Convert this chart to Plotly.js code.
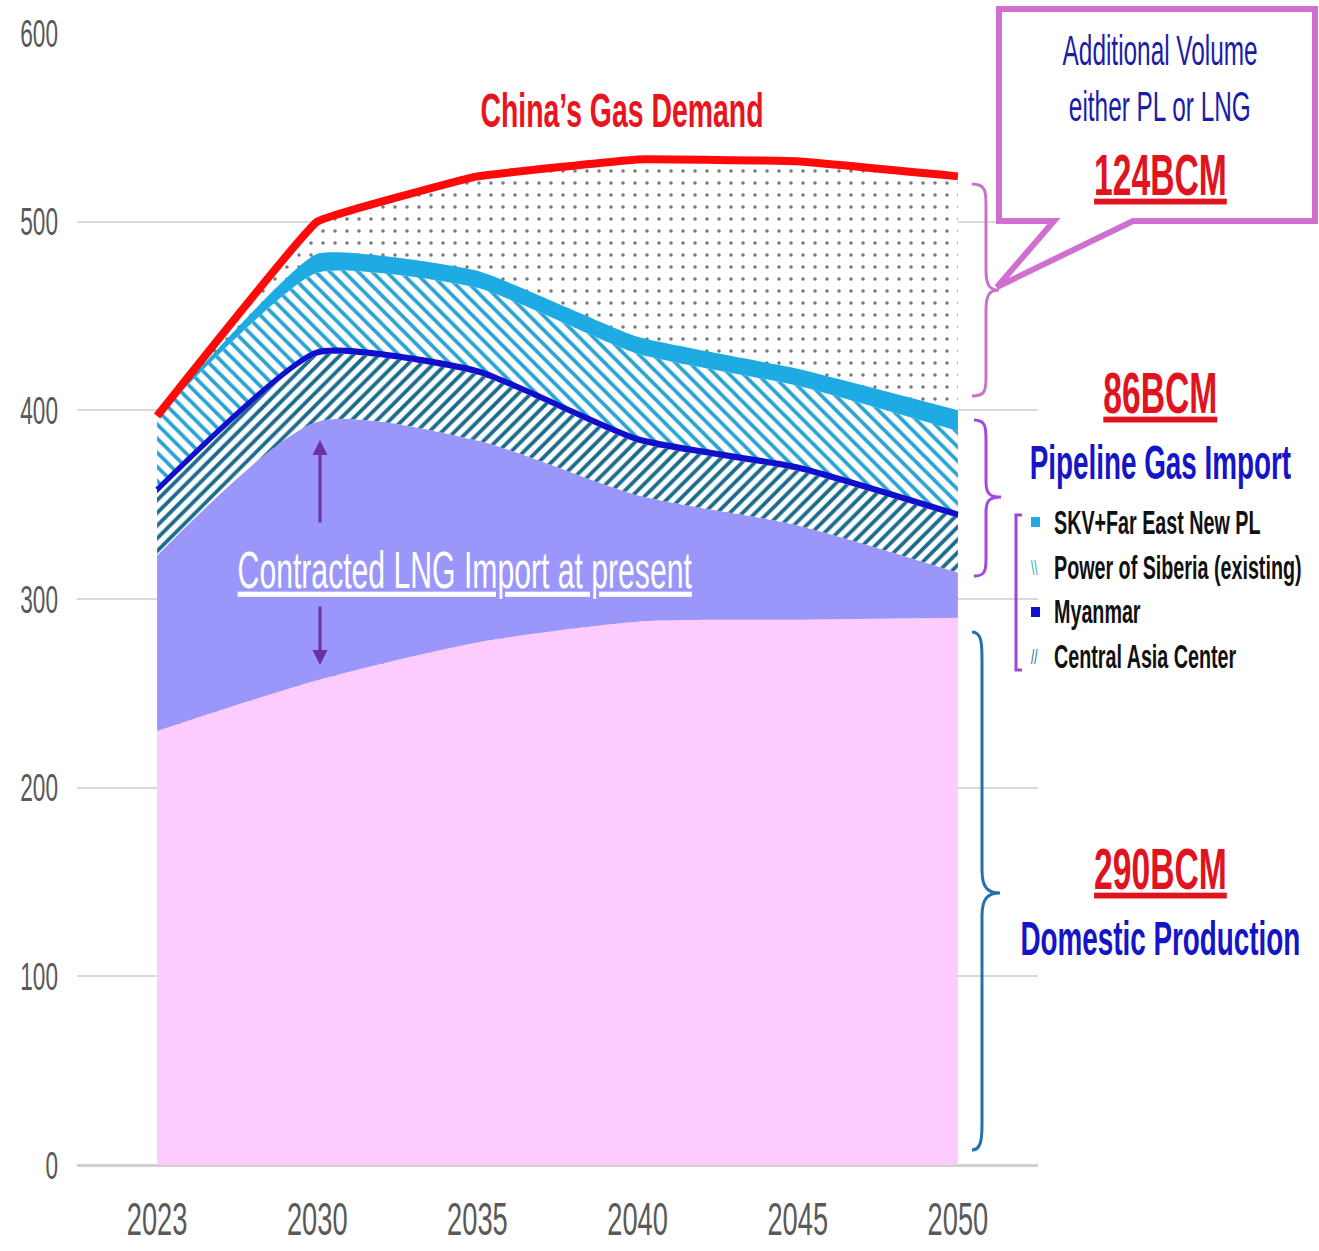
<!DOCTYPE html>
<html>
<head>
<meta charset="utf-8">
<script src="https://cdn.plot.ly/plotly-3.0.1.min.js"></script>
<style>html,body{margin:0;padding:0;background:#fff;}#chart{width:1319px;height:1251px;}</style>
</head>
<body>
<div id="chart"></div>
<script>
// ---- data (BCM) ----
const years = ['2023', '2030', '2035', '2040', '2045', '2050'];
const domesticProduction = [230, 257, 277, 288, 289, 290];
const contractedLNG = [93, 137, 107, 67, 50, 24];
const centralAsiaCenter = [33, 35, 35, 28, 29, 29];
const myanmar = [2, 2, 2, 2, 2, 2];
const powerOfSiberia = [39, 42, 44, 45, 43, 44];
const skvFarEastNewPL = [0, 10, 9, 9, 9, 11];
const chinaGasDemand = [397, 500, 524, 533, 532, 524];
const yTicks = [0, 100, 200, 300, 400, 500, 600];

const FONT = "'Liberation Sans', Arial, sans-serif";
const SQUEEZE = 0.58; // horizontal condensing of all texts

// pixel -> paper helpers (for decorations only)
const L = 77, R = 1038, T = 33, B = 1165;
const X = p => (p - L) / (R - L);
const Y = p => (B - p) / (B - T);
function pth(s) {
  let i = 0;
  return s.replace(/-?\d+(\.\d+)?/g, m => { const v = +m; const o = (i % 2 === 0) ? X(v) : Y(v); i++; return o.toFixed(5); });
}

const traces = [
  // additional volume (dotted) = area under demand, covered by the supply stack
  { x: years, y: chinaGasDemand, name: 'Additional Volume', type: 'scatter', mode: 'lines', fill: 'tozeroy',
    line: { width: 0, shape: 'spline', smoothing: 0.2 }, fillcolor: 'rgba(0,0,0,0)',
    fillpattern: { shape: '.', fgcolor: '#7A7A7A', bgcolor: '#FFFFFF', size: 12, solidity: 0.07 } },
  { x: years, y: domesticProduction, name: 'Domestic Production', type: 'scatter', mode: 'lines', stackgroup: 'supply',
    line: { width: 0, shape: 'spline', smoothing: 0.7 }, fillcolor: '#FDCBFD' },
  { x: years, y: contractedLNG, name: 'Contracted LNG', type: 'scatter', mode: 'lines', stackgroup: 'supply',
    line: { width: 0, shape: 'spline', smoothing: 0.7 }, fillcolor: '#9B97FA' },
  { x: years, y: centralAsiaCenter, name: 'Central Asia Center', type: 'scatter', mode: 'lines', stackgroup: 'supply',
    line: { width: 0, shape: 'spline', smoothing: 0.5 }, fillcolor: 'rgba(0,0,0,0)',
    fillpattern: { shape: '/', fgcolor: '#1D6B8E', bgcolor: '#FFFFFF', size: 9, solidity: 0.42 } },
  { x: years, y: myanmar, name: 'Myanmar', type: 'scatter', mode: 'lines', stackgroup: 'supply',
    line: { width: 5, color: '#1010CC', shape: 'spline', smoothing: 0.5 }, fillcolor: '#1010CC' },
  { x: years, y: powerOfSiberia, name: 'Power of Siberia (existing)', type: 'scatter', mode: 'lines', stackgroup: 'supply',
    line: { width: 0, shape: 'spline', smoothing: 0.5 }, fillcolor: 'rgba(0,0,0,0)',
    fillpattern: { shape: '\\', fgcolor: '#2BA3D3', bgcolor: '#FFFFFF', size: 10, solidity: 0.38 } },
  { x: years, y: skvFarEastNewPL, name: 'SKV+Far East New PL', type: 'scatter', mode: 'lines', stackgroup: 'supply',
    line: { width: 0, shape: 'spline', smoothing: 0.4 }, fillcolor: '#1EAAE2' },
  { x: years, y: chinaGasDemand, name: "China's Gas Demand", type: 'scatter', mode: 'lines',
    line: { width: 8, color: '#FF0A0A', shape: 'spline', smoothing: 0.2 } }
];

const shapes = [
  // callout box
  { type: 'path', xref: 'paper', yref: 'paper', layer: 'above',
    path: pth('M 999 9 L 1315 9 L 1315 221 L 1133 221 L 997 287 L 1054 221 L 999 221 Z'),
    line: { color: '#CF6FCF', width: 6 }, fillcolor: '#FFFFFF' },
  // brace additional volume
  { type: 'path', xref: 'paper', yref: 'paper', layer: 'above',
    path: pth('M 972 184 C 986 184 986 192 986 205 L 986 270 C 986 286 990 290 999 290 C 990 290 986 294 986 310 L 986 378 C 986 392 984 396 972 396'),
    line: { color: '#C774C7', width: 3 } },
  // brace pipeline
  { type: 'path', xref: 'paper', yref: 'paper', layer: 'above',
    path: pth('M 974 420 C 986 420 986 428 986 440 L 986 482 C 986 494 990 497 1001 497 C 990 497 986 500 986 512 L 986 560 C 986 572 984 576 974 576'),
    line: { color: '#A347E0', width: 3 } },
  // brace domestic
  { type: 'path', xref: 'paper', yref: 'paper', layer: 'above',
    path: pth('M 972 632 C 982 632 982 645 982 660 L 982 870 C 982 888 988 893 1000 893 C 988 893 982 898 982 916 L 982 1125 C 982 1142 980 1150 972 1150'),
    line: { color: '#2470AE', width: 3 } },
  // legend bracket
  { type: 'path', xref: 'paper', yref: 'paper', layer: 'above',
    path: pth('M 1022 515 L 1016 515 L 1016 670 L 1022 670'),
    line: { color: '#9B47D8', width: 3 } },
  // legend squares
  { type: 'rect', xref: 'paper', yref: 'paper', layer: 'above', x0: X(1031), x1: X(1040), y0: Y(527), y1: Y(517),
    line: { width: 0 }, fillcolor: '#1EAAE2' },
  { type: 'rect', xref: 'paper', yref: 'paper', layer: 'above', x0: X(1031), x1: X(1040), y0: Y(617), y1: Y(607),
    line: { width: 0 }, fillcolor: '#1010CC' }
];

function ann(text, px, py, size, color, opts) {
  return Object.assign({ text: text, xref: 'paper', yref: 'paper', x: X(px), y: Y(py), showarrow: false,
    xanchor: 'center', yanchor: 'middle', font: { family: FONT, size: size, color: color } }, opts || {});
}
const LEFT = { xanchor: 'left', align: 'left' };

const annotations = [
  ann('<u>Contracted LNG Import at present</u>', 465, 570, 52, '#FFFFFF'),
  ann('Additional Volume', 1160, 50, 42, '#1C1CA8'),
  ann('either PL or LNG', 1160, 106, 42, '#1C1CA8'),
  ann('<u><b>124BCM</b></u>', 1160, 174, 58, '#E0141E'),
  ann('<u><b>86BCM</b></u>', 1160, 392, 58, '#E0141E'),
  ann('<b>Pipeline Gas Import</b>', 1160, 462, 48, '#1414C8'),
  ann('<u><b>290BCM</b></u>', 1160, 868, 58, '#E0141E'),
  ann('<b>Domestic Production</b>', 1160, 938, 48, '#1414C8'),
  // legend entries
  ann('<b>SKV+Far East New PL</b>', 1052, 522, 34, '#111111', LEFT),
  ann('\\\\', 1029, 568, 20, '#2BA3D3', LEFT),
  ann('<b>Power of Siberia (existing)</b>', 1052, 567, 34, '#111111', LEFT),
  ann('<b>Myanmar</b>', 1052, 611, 34, '#111111', LEFT),
  ann('//', 1029, 657, 20, '#1D6B8E', LEFT),
  ann('<b>Central Asia Center</b>', 1052, 656, 34, '#111111', LEFT),
  // arrows
  { xref: 'paper', yref: 'paper', x: X(320), y: Y(440), ax: 0, ay: 84, text: '', showarrow: true,
    arrowhead: 2, arrowsize: 1, arrowwidth: 3, arrowcolor: '#7030A0' },
  { xref: 'paper', yref: 'paper', x: X(320), y: Y(665), ax: 0, ay: -60, text: '', showarrow: true,
    arrowhead: 2, arrowsize: 1, arrowwidth: 3, arrowcolor: '#7030A0' }
];

const layout = {
  width: 1319, height: 1251,
  margin: { l: L, r: 1319 - R, t: T, b: 1251 - B },
  paper_bgcolor: '#FFFFFF', plot_bgcolor: '#FFFFFF',
  showlegend: false,
  title: { text: '<b>China’s Gas Demand</b>', xref: 'paper', x: X(622), xanchor: 'center',
    yref: 'container', y: 1 - 110 / 1251, yanchor: 'middle', font: { family: FONT, size: 49, color: '#E8141E' } },
  xaxis: { type: 'category', categoryorder: 'array', categoryarray: years, range: [-0.5, 5.5],
    showgrid: false, zeroline: false, showline: false, ticks: '',
    tickfont: { family: FONT, size: 47, color: '#595959' }, ticklabelstandoff: 22 },
  yaxis: { range: [0, 600], tickvals: yTicks, ticktext: yTicks.map(String), showgrid: true,
    gridcolor: '#D9D9D9', gridwidth: 2, zeroline: true, zerolinecolor: '#D0D0D0', zerolinewidth: 3,
    showline: false, ticks: '', tickfont: { family: FONT, size: 39, color: '#595959' }, ticklabelstandoff: 18 },
  shapes: shapes,
  annotations: annotations
};

function squeezeTexts(gd) {
  gd.querySelectorAll('svg text').forEach(t => {
    let bb;
    try { bb = t.getBBox(); } catch (e) { return; }
    if (!bb || bb.width === 0) return;
    const anchor = t.getAttribute('text-anchor') || 'start';
    let cx = bb.x + bb.width / 2;
    if (anchor === 'start') cx = bb.x;
    else if (anchor === 'end') cx = bb.x + bb.width;
    const prev = t.getAttribute('transform') || '';
    t.setAttribute('transform', (prev + ' translate(' + cx + ',0) scale(' + SQUEEZE + ',1) translate(' + (-cx) + ',0)').trim());
  });
}

const gd = document.getElementById('chart');
Plotly.newPlot(gd, traces, layout, { displayModeBar: false, staticPlot: true }).then(() => squeezeTexts(gd));
</script>
</body>
</html>
